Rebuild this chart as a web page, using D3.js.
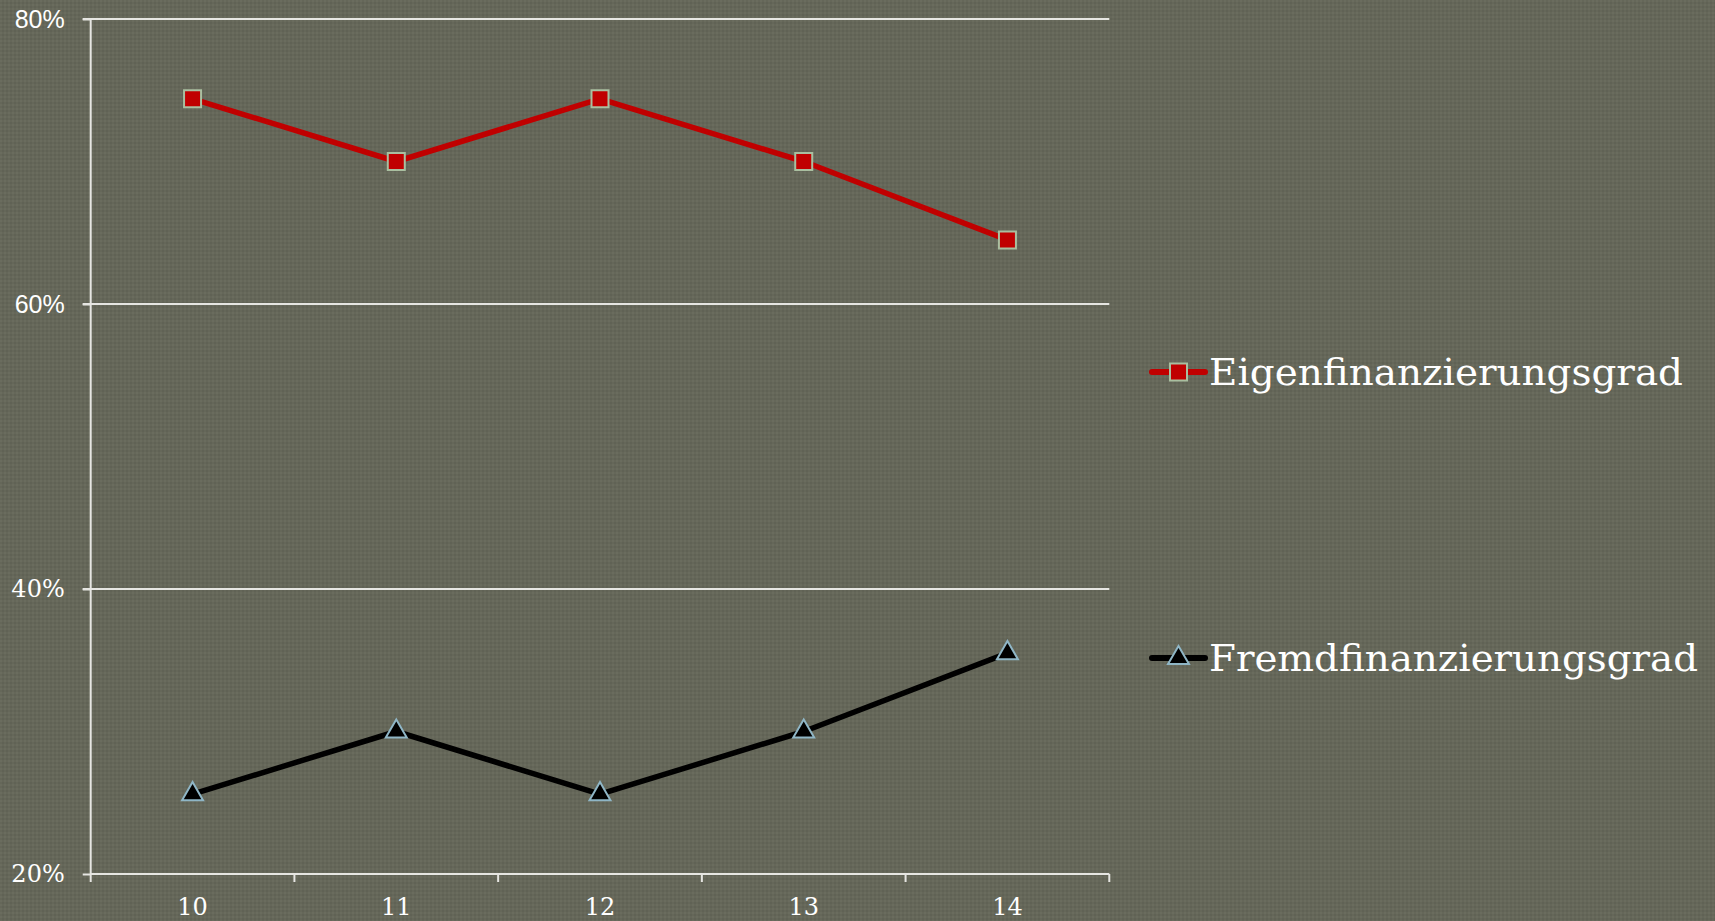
<!DOCTYPE html>
<html>
<head>
<meta charset="utf-8">
<script src="https://cdn.jsdelivr.net/npm/d3@7"></script>
<style>
  html, body { margin: 0; padding: 0; background: #666859; }
  svg { display: block; }
</style>
</head>
<body>
<svg id="chart" width="1715" height="921"></svg>
<script>
const categories = ["10", "11", "12", "13", "14"];
const eigenValues = [0.744, 0.700, 0.744, 0.700, 0.645];
const fremdValues = [0.256, 0.300, 0.256, 0.300, 0.355];
const yTicks = [0.2, 0.4, 0.6, 0.8];
const seriesNames = ["Eigenfinanzierungsgrad", "Fremdfinanzierungsgrad"];

const W = 1715, H = 921;
const m = { left: 90.7, right: W - 1109.3, top: 19, bottom: H - 874 };
const svg = d3.select("#chart");

// background with subtle texture
const defs = svg.append("defs");
const pat = defs.append("pattern").attr("id", "bg").attr("width", 4).attr("height", 4).attr("patternUnits", "userSpaceOnUse");
pat.append("rect").attr("width", 4).attr("height", 4).attr("fill", "#656759");
pat.append("rect").attr("width", 2).attr("height", 2).attr("fill", "#6a6c5e");
pat.append("rect").attr("x", 2).attr("y", 2).attr("width", 2).attr("height", 2).attr("fill", "#606255");
svg.append("rect").attr("width", W).attr("height", H).attr("fill", "url(#bg)");

const x = d3.scaleBand().domain(categories).range([m.left, W - m.right]);
const y = d3.scaleLinear().domain([0.2, 0.8]).range([H - m.bottom, m.top]);

const lineCol = "#e6e6e2";
const serif = "'DejaVu Serif', serif";
const sans = "'Liberation Sans', Arial, sans-serif";

// gridlines
svg.append("g").selectAll("line").data(yTicks.filter(d => d > 0.2)).join("line")
  .attr("x1", m.left - 8).attr("x2", W - m.right)
  .attr("y1", d => y(d)).attr("y2", d => y(d))
  .attr("stroke", lineCol).attr("stroke-width", 2);

// y axis
const yAxis = svg.append("g").attr("transform", `translate(${m.left},0)`)
  .call(d3.axisLeft(y).tickValues(yTicks).tickSize(8).tickPadding(18).tickFormat(d3.format(".0%")));
yAxis.select(".domain").attr("stroke", lineCol).attr("stroke-width", 2)
  .attr("d", `M0,${m.top}V${H - m.bottom}`);
yAxis.selectAll(".tick line").attr("stroke", lineCol).attr("stroke-width", 2);
yAxis.selectAll(".tick text").attr("fill", "#ffffff")
  .style("font-family", d => d >= 0.6 ? sans : serif)
  .style("font-size", d => d >= 0.6 ? "25px" : "24px");

// x axis
const xAxis = svg.append("g").attr("transform", `translate(0,${H - m.bottom})`)
  .call(d3.axisBottom(x).tickSize(0).tickPadding(24));
xAxis.select(".domain").remove();
xAxis.append("line").attr("x1", m.left).attr("x2", W - m.right)
  .attr("stroke", lineCol).attr("stroke-width", 2);
const bounds = categories.map(c => x(c)).concat([W - m.right]);
xAxis.selectAll(".sep").data(bounds).join("line").attr("class", "sep")
  .attr("x1", d => d).attr("x2", d => d).attr("y1", 0).attr("y2", 8)
  .attr("stroke", lineCol).attr("stroke-width", 2);
xAxis.selectAll(".tick text").attr("fill", "#ffffff")
  .style("font-family", serif).style("font-size", "24px");

const cx = d => x(d) + x.bandwidth() / 2;
const line = d3.line().x((d, i) => cx(categories[i])).y(d => y(d));

// series lines
svg.append("path").datum(eigenValues).attr("d", line)
  .attr("fill", "none").attr("stroke", "#c00000").attr("stroke-width", 5.5).attr("stroke-linejoin", "round");
svg.append("path").datum(fremdValues).attr("d", line)
  .attr("fill", "none").attr("stroke", "#000000").attr("stroke-width", 5.5).attr("stroke-linejoin", "round");

const sq = d3.symbol().type(d3.symbolSquare).size(17 * 17);
const tri = d3.symbol().type(d3.symbolTriangle).size(190);

svg.append("g").selectAll("path").data(eigenValues).join("path")
  .attr("d", sq)
  .attr("transform", (d, i) => `translate(${cx(categories[i])},${y(d)})`)
  .attr("fill", "#c00000").attr("stroke", "#a9bfa0").attr("stroke-width", 2);
svg.append("g").selectAll("path").data(fremdValues).join("path")
  .attr("d", tri)
  .attr("transform", (d, i) => `translate(${cx(categories[i])},${y(d)})`)
  .attr("fill", "#000000").attr("stroke", "#8fb6c6").attr("stroke-width", 2);

// legend
const legendItems = [
  { name: seriesNames[0], color: "#c00000", sym: sq, stroke: "#a9bfa0", y: 372, width: 474 },
  { name: seriesNames[1], color: "#000000", sym: tri, stroke: "#8fb6c6", y: 658, width: 489 }
];
const lg = svg.append("g").selectAll("g").data(legendItems).join("g")
  .attr("transform", d => `translate(0,${d.y})`);
lg.append("line").attr("x1", 1152).attr("x2", 1205).attr("y1", 0).attr("y2", 0)
  .attr("stroke", d => d.color).attr("stroke-width", 6).attr("stroke-linecap", "round");
lg.append("path").attr("d", d => d.sym()).attr("transform", "translate(1178.5,0)")
  .attr("fill", d => d.color).attr("stroke", d => d.stroke).attr("stroke-width", 2);
lg.append("text").attr("x", 1209).attr("y", 13)
  .attr("fill", "#ffffff").style("font-family", serif).style("font-size", "37px")
  .attr("textLength", d => d.width).attr("lengthAdjust", "spacingAndGlyphs")
  .text(d => d.name);
</script>
</body>
</html>
